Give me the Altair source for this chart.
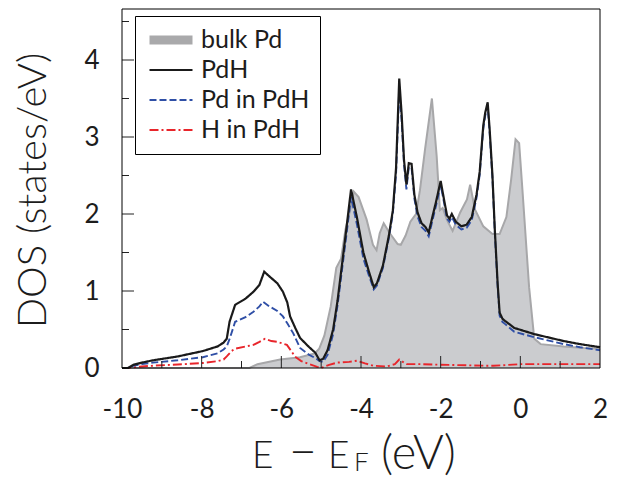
import altair as alt
import pandas as pd

SERIES = ["bulk Pd", "PdH", "Pd in PdH", "H in PdH"]
COLORS = ["#a9a9ab", "#1a1a1a", "#2f4fa6", "#e8252b"]
DASHES = [[1, 0], [1, 0], [7, 3], [9, 3, 2, 3]]
WIDTHS = [9, 2.2, 1.9, 1.9]

bulk_e = [-10, -6.8, -6.6, -6.03, -5.53, -5.16, -5.05, -4.92, -4.76, -4.62, -4.5, -4.39, -4.25,
          -4.18, -4.06, -3.86, -3.70, -3.61, -3.53, -3.43, -3.29, -3.08, -3.0, -2.88, -2.76,
          -2.62, -2.52, -2.39, -2.22, -2.10, -2.02, -1.95, -1.84, -1.70, -1.51, -1.34, -1.26,
          -1.14, -0.93, -0.70, -0.52, -0.35, -0.23, -0.12, -0.03, 0.06, 0.22, 0.35, 0.51,
          1.09, 1.6, 2.0]
bulk_dos = [0, 0, 0.05, 0.11, 0.14, 0.19, 0.25, 0.42, 0.80, 1.30, 1.42, 1.80, 2.10,
            2.29, 2.22, 1.93, 1.60, 1.53, 1.75, 1.88, 1.76, 1.61, 1.60, 1.72, 1.90,
            2.0, 2.31, 2.85, 3.50, 2.75, 2.05, 2.08, 1.92, 1.78, 2.02, 2.19, 2.38,
            2.06, 1.84, 1.74, 1.74, 1.96, 2.45, 2.97, 2.92, 2.26, 1.05, 0.38, 0.31,
            0.28, 0.26, 0.25]

pdh_e = [-10, -9.85, -9.72, -9.5, -9.22, -8.6, -7.97, -7.6, -7.45, -7.37, -7.3, -7.16, -6.9,
         -6.7, -6.55, -6.43, -6.3, -6.1, -5.96, -5.85, -5.78, -5.65, -5.53, -5.3, -5.15,
         -5.04, -4.95, -4.84, -4.7, -4.59, -4.39, -4.25, -4.1, -3.94, -3.8, -3.68, -3.6,
         -3.45, -3.30, -3.20, -3.12, -3.04, -2.98, -2.92, -2.86, -2.80, -2.73, -2.66,
         -2.58, -2.48, -2.38, -2.30, -2.20, -2.12, -2.00, -1.92, -1.84, -1.78, -1.72,
         -1.62, -1.48, -1.35, -1.22, -1.10, -1.02, -0.93, -0.88, -0.82, -0.77, -0.70,
         -0.64, -0.57, -0.52, -0.45, -0.38, -0.15, 0.35, 1.09, 1.5, 2.0]
pdh_dos = [0, 0, 0.04, 0.07, 0.10, 0.15, 0.22, 0.28, 0.33, 0.38, 0.60, 0.82, 0.90,
           0.99, 1.08, 1.25, 1.19, 1.10, 0.99, 0.85, 0.67, 0.52, 0.39, 0.27, 0.20,
           0.10, 0.12, 0.23, 0.50, 0.87, 1.71, 2.32, 1.95, 1.50, 1.25, 1.05, 1.10,
           1.33, 1.72, 2.05, 2.60, 3.76, 3.30, 2.70, 2.38, 2.66, 2.65, 2.25,
           2.02, 1.88, 1.83, 1.76, 1.98, 2.15, 2.43, 2.20, 1.98, 1.94, 2.00,
           1.90, 1.84, 1.86, 1.96, 2.25, 2.55, 3.15, 3.32, 3.45, 3.10, 2.50,
           1.79, 1.10, 0.72, 0.64, 0.61, 0.52, 0.44, 0.35, 0.31, 0.27]

pd_e = [-10, -9.85, -9.72, -9.5, -9.22, -8.6, -7.97, -7.6, -7.45, -7.37, -7.29, -7.16, -6.9,
        -6.7, -6.55, -6.46, -6.3, -6.1, -5.96, -5.85, -5.7, -5.53, -5.3, -5.15, -5.04,
        -4.95, -4.84, -4.7, -4.59, -4.39, -4.25, -4.1, -3.94, -3.8, -3.68, -3.6, -3.45,
        -3.30, -3.20, -3.12, -3.04, -2.98, -2.92, -2.86, -2.80, -2.73, -2.66, -2.58,
        -2.48, -2.38, -2.30, -2.20, -2.12, -2.00, -1.92, -1.84, -1.78, -1.72, -1.62,
        -1.48, -1.35, -1.22, -1.10, -1.02, -0.93, -0.88, -0.82, -0.77, -0.70, -0.64,
        -0.57, -0.52, -0.45, -0.38, -0.15, 0.35, 1.09, 1.5, 2.0]
pd_dos = [0, 0, 0.03, 0.05, 0.07, 0.10, 0.14, 0.19, 0.24, 0.28, 0.39, 0.60, 0.66,
          0.73, 0.80, 0.86, 0.80, 0.74, 0.67, 0.58, 0.45, 0.26, 0.17, 0.13, 0.09,
          0.08, 0.17, 0.44, 0.81, 1.63, 2.22, 1.86, 1.42, 1.20, 1.02, 1.07, 1.30,
          1.69, 2.01, 2.52, 3.62, 3.22, 2.64, 2.32, 2.61, 2.60, 2.20, 1.97,
          1.83, 1.78, 1.71, 1.93, 2.10, 2.38, 2.16, 1.94, 1.90, 1.96, 1.86,
          1.80, 1.82, 1.92, 2.21, 2.51, 3.11, 3.28, 3.40, 3.05, 2.46, 1.75,
          1.06, 0.68, 0.60, 0.57, 0.47, 0.40, 0.31, 0.27, 0.23]

h_e = [-10, -9.85, -9.5, -9.22, -8.6, -7.97, -7.6, -7.45, -7.37, -7.25, -7.16, -6.9, -6.7,
       -6.55, -6.41, -6.25, -6.11, -5.98, -5.86, -5.75, -5.66, -5.5, -5.3, -5.1, -4.98,
       -4.8, -4.6, -4.3, -4.1, -3.9, -3.69, -3.35, -3.15, -3.04, -2.95, -2.85, -2.5,
       -2.18, -1.8, -1.35, -0.9, -0.68, -0.3, 0.0, 1.0, 2.0]
h_dos = [0, 0, 0.02, 0.03, 0.045, 0.065, 0.09, 0.11, 0.15, 0.22, 0.25, 0.28, 0.30,
         0.34, 0.38, 0.35, 0.34, 0.32, 0.30, 0.22, 0.15, 0.09, 0.05, 0.015, 0.005,
         0.04, 0.07, 0.08, 0.095, 0.06, 0.03, 0.02, 0.05, 0.11, 0.08, 0.05, 0.05,
         0.045, 0.04, 0.035, 0.03, 0.03, 0.04, 0.05, 0.05, 0.05]

x_labels = [-10, -8, -6, -4, -2, 0, 2]
y_labels = [0, 1, 2, 3, 4]
x_major = [-8, -6, -4, -2, 0]
x_minor = [-9, -7, -5, -3, -1, 1]
y_major = [1, 2, 3, 4]
y_minor = [0.5, 1.5, 2.5, 3.5, 4.5]

W, H = 478, 359
FONT = "Lato"
TXT = "#1c1c1c"

bulk_df = pd.DataFrame({"E": bulk_e, "DOS": bulk_dos})
lines_df = pd.concat([
    pd.DataFrame({"E": h_e, "DOS": h_dos, "series": "H in PdH"}),
    pd.DataFrame({"E": pd_e, "DOS": pd_dos, "series": "Pd in PdH"}),
    pd.DataFrame({"E": pdh_e, "DOS": pdh_dos, "series": "PdH"}),
], ignore_index=True)

xs = alt.Scale(domain=[-10, 2], nice=False, zero=False)
ys = alt.Scale(domain=[0, 359 / 77], nice=False)

x_axis = alt.Axis(values=x_labels, labelExpr="'' + datum.value", ticks=False, domain=False,
                  grid=False, title=None, labelFont=FONT, labelFontSize=26, labelColor=TXT,
                  labelFontWeight=400, labelPadding=49, labelBaseline="alphabetic",
                  labelFlush=False, labelOverlap=False)
y_axis = alt.Axis(values=y_labels, labelExpr="'' + datum.value", ticks=False, domain=False,
                  grid=False, title="DOS (states/eV)", labelFont=FONT, labelFontSize=26,
                  labelFontWeight=400, labelColor=TXT, labelPadding=23,
                  labelBaseline="middle", labelOverlap=False, titleFont=FONT,
                  titleFontSize=40, titleFontWeight=300, titleColor=TXT, titleX=-77,
                  titleY=181, titleBaseline="alphabetic", titleAlign="center",
                  titleAngle=270)

X = alt.X("E:Q", scale=xs, axis=x_axis)
Y = alt.Y("DOS:Q", scale=ys, axis=y_axis)

area = alt.Chart(bulk_df).mark_area(color="#cbcccf").encode(x=X, y=Y)
bulk_line = alt.Chart(bulk_df).mark_line(color="#a7a7a9", strokeWidth=2).encode(x=X, y=Y)

leg = alt.Legend(title=None, orient="none", legendX=13, legendY=7, direction="vertical",
                 strokeColor="black", fillColor="white", padding=10, symbolType="stroke",
                 symbolSize=1849, labelFont=FONT, labelFontSize=25, labelFontWeight=400,
                 labelColor=TXT, labelOffset=4, clipHeight=28, rowPadding=2, labelLimit=400)

base = alt.Chart(lines_df).mark_line().encode(
    x=X, y=Y,
    color=alt.Color("series:N", scale=alt.Scale(domain=SERIES, range=COLORS), legend=leg),
    strokeDash=alt.StrokeDash("series:N", scale=alt.Scale(domain=SERIES, range=DASHES), legend=leg),
    strokeWidth=alt.StrokeWidth("series:N", scale=alt.Scale(type="ordinal", domain=SERIES, range=WIDTHS), legend=leg),
)
line_layers = [base.transform_filter(alt.datum.series == s) for s in ["H in PdH", "Pd in PdH", "PdH"]]

def xticks(vals, length):
    return alt.Chart(pd.DataFrame({"v": vals})).mark_rule(color="#222", strokeWidth=1).encode(
        x=alt.X("v:Q", scale=xs, axis=x_axis), y=alt.value(H), y2=alt.value(H - length))

def yticks(vals, length):
    return alt.Chart(pd.DataFrame({"v": vals})).mark_rule(color="#222", strokeWidth=1).encode(
        y=alt.Y("v:Q", scale=ys, axis=y_axis), x=alt.value(0), x2=alt.value(length))

frame = alt.Chart(pd.DataFrame({"k": [0]})).mark_rect(filled=False, stroke="black", strokeWidth=1).encode(
    x=alt.value(0), x2=alt.value(W), y=alt.value(0), y2=alt.value(H))

def label(txt, x, y, size, align="left"):
    return alt.Chart(pd.DataFrame({"t": [txt]})).mark_text(
        font=FONT, fontSize=size, fontWeight=300, align=align, baseline="alphabetic", color=TXT
    ).encode(text="t:N", x=alt.value(x), y=alt.value(y))

chart = alt.layer(
    area, bulk_line, *line_layers,
    xticks(x_major, 12), xticks(x_minor, 7), yticks(y_major, 12), yticks(y_minor, 7),
    frame,
    label("E", 130, 459, 37),
    label("−", 181, 459, 48, "center"),
    label("E", 206, 459, 37),
    label("F", 232, 462, 26),
    label("(eV)", 259, 460, 47),
).properties(
    width=W, height=H,
    autosize=alt.AutoSizeParams(type="none"),
    padding={"left": 114, "top": 1, "right": 10, "bottom": 112},
).configure_view(stroke=None)

chart.save("out.html", embed_options={"renderer": "svg", "actions": False})
